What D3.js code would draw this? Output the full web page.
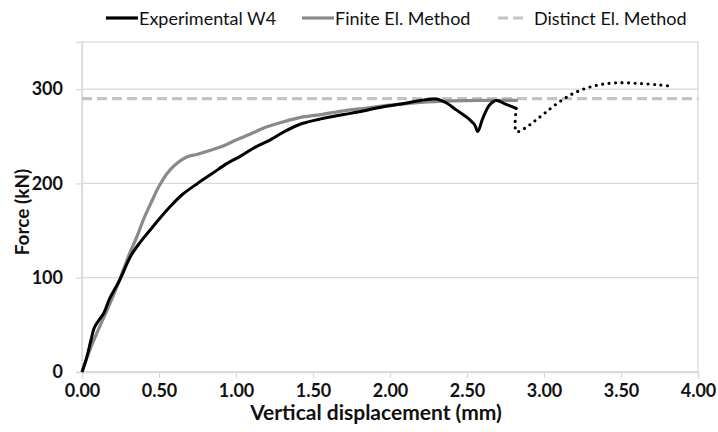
<!DOCTYPE html>
<html><head><meta charset="utf-8">
<script src="https://cdn.jsdelivr.net/npm/d3@7"></script>
<style>
html,body{margin:0;padding:0;background:#fff;}
svg{display:block;font-family:Lato,"Open Sans",sans-serif;}
</style></head>
<body><svg id="c" width="718" height="432"></svg>
<script>
// ---- data ----
const xTicks = [0, 0.5, 1.0, 1.5, 2.0, 2.5, 3.0, 3.5, 4.0];
const yTicks = [0, 100, 200, 300];
const seriesNames = ["Experimental W4", "Finite El. Method", "Distinct El. Method"];

const expX = [0.00,0.03,0.06,0.08,0.11,0.14,0.18,0.24,0.32,0.38,0.44,0.50,0.57,0.65,0.75,0.85,0.94,1.03,1.12,1.22,1.32,1.42,1.55,1.70,1.80,1.95,2.10,2.20,2.30,2.37,2.43,2.50,2.55,2.57,2.60,2.645,2.69,2.75,2.82];
const expY = [0,15,35,47,55,62,78,96,124,138,150,162,175,188,200,211,221,229,238,246,255.5,263,268.5,273,276,281,285,288,289.5,285,278,270,262,255,268,283,288,284,279.6];

const extX = [2.82,2.82,2.87,2.93,3.00,3.10,3.21,3.34,3.47,3.62,3.75,3.83];
const extY = [279.6,255,258,265,274,286.5,297,304,306.8,306,304.5,303];

const femX = [0.00,0.05,0.12,0.18,0.24,0.30,0.36,0.40,0.45,0.50,0.55,0.60,0.68,0.75,0.85,0.92,1.00,1.10,1.20,1.30,1.42,1.55,1.70,1.85,2.00,2.20,2.40,2.60,2.83];
const femY = [0,23,50,72,96,122,145,162,180,197,210,219,228,231,236,240,246,253,260,265,270,273,277,280,283,286,287.5,288,288];

const demX = [0, 4];
const demY = [290, 290];

// ---- layout ----
const svg = d3.select("#c");
const L = 82, R = 698, T = 42, B = 372;
const x = d3.scaleLinear().domain([0, 4]).range([L, R]);
const y = d3.scaleLinear().domain([0, 350]).range([B, T]);
const grid = "#d9d9d9";
const txt = "#111";

// grid lines
svg.append("g").selectAll("line").data(yTicks).join("line")
  .attr("x1", L).attr("x2", R).attr("y1", d => y(d)).attr("y2", d => y(d))
  .attr("stroke", grid).attr("stroke-width", 1.3);
// border
svg.append("rect").attr("x", L).attr("y", T).attr("width", R - L).attr("height", B - T)
  .attr("fill", "none").attr("stroke", grid).attr("stroke-width", 1.3);

// y axis
const yAxis = svg.append("g").attr("transform", `translate(${L},0)`)
  .call(d3.axisLeft(y).tickValues(yTicks).tickSize(6).tickPadding(13).tickFormat(d3.format("d")));
yAxis.select(".domain").attr("stroke", grid).attr("stroke-width", 1.3);
yAxis.selectAll(".tick line").attr("stroke", grid).attr("stroke-width", 1.3);
yAxis.selectAll("text").attr("font-size", 18).attr("font-weight", "bold").attr("fill", txt)
  .attr("font-family", "Lato, sans-serif");

// x axis
const xAxis = svg.append("g").attr("transform", `translate(0,${B})`)
  .call(d3.axisBottom(x).tickValues(xTicks).tickSize(6).tickPadding(6).tickFormat(d3.format(".2f")));
xAxis.select(".domain").attr("stroke", grid).attr("stroke-width", 1.3);
xAxis.selectAll(".tick line").attr("stroke", grid).attr("stroke-width", 1.3);
xAxis.selectAll("text").attr("font-size", 18).attr("font-weight", "bold").attr("fill", txt)
  .attr("font-family", "Lato, sans-serif");

// axis titles
svg.append("text").attr("x", 376).attr("y", 420).attr("text-anchor", "middle")
  .attr("font-size", 21).attr("font-weight", "bold").attr("fill", txt).text("Vertical displacement (mm)");
svg.append("text").attr("transform", `translate(29,212) rotate(-90)`).attr("text-anchor", "middle")
  .attr("font-size", 19).attr("font-weight", "bold").attr("fill", txt).text("Force (kN)");

// lines
const lineLin = d3.line().x(d => x(d[0])).y(d => y(d[1]));
const lineCR = d3.line().x(d => x(d[0])).y(d => y(d[1])).curve(d3.curveCatmullRom.alpha(0.5));
const zip = (a, b) => a.map((v, i) => [v, b[i]]);

svg.append("path").datum(zip(demX, demY)).attr("d", lineLin)
  .attr("fill", "none").attr("stroke", "#c4c4c4").attr("stroke-width", 3.2).attr("stroke-dasharray", "10 5");
svg.append("path").datum(zip(femX, femY)).attr("d", lineCR)
  .attr("fill", "none").attr("stroke", "#8a8a8a").attr("stroke-width", 3.2).attr("stroke-linejoin", "round");
svg.append("path").datum(zip(expX, expY)).attr("d", lineCR)
  .attr("fill", "none").attr("stroke", "#000").attr("stroke-width", 3).attr("stroke-linejoin", "round");
svg.append("path").datum(zip(extX, extY)).attr("d", lineCR)
  .attr("fill", "none").attr("stroke", "#000").attr("stroke-width", 3.2)
  .attr("stroke-linecap", "round").attr("stroke-dasharray", "0 6.5");

// legend
const legItems = [
  {name: seriesNames[0], color: "#000", dash: null, x0: 106, x1: 138},
  {name: seriesNames[1], color: "#8a8a8a", dash: null, x0: 302, x1: 334},
  {name: seriesNames[2], color: "#c4c4c4", dash: "10 5", x0: 498, x1: 528}
];
const leg = svg.append("g");
legItems.forEach(it => {
  leg.append("line").attr("x1", it.x0).attr("x2", it.x1).attr("y1", 18).attr("y2", 18)
    .attr("stroke", it.color).attr("stroke-width", 3.2).attr("stroke-dasharray", it.dash);
  leg.append("text").attr("x", it.x1 + (it.dash ? 6 : 1)).attr("y", 24.5).attr("font-size", 18).attr("fill", txt).text(it.name);
});
</script></body></html>
